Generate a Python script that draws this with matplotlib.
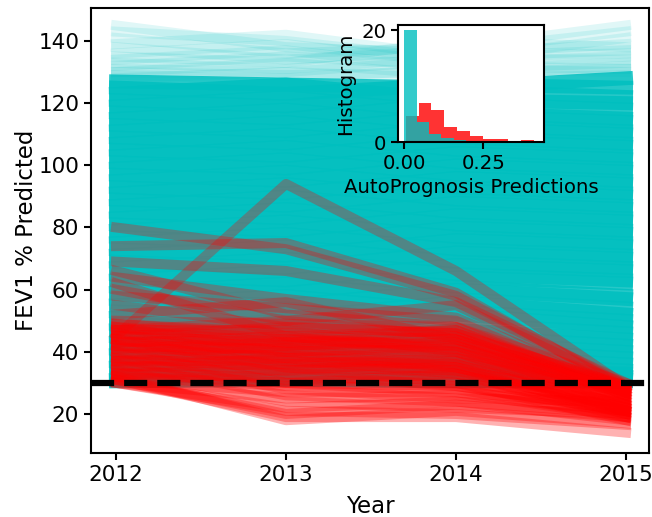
import matplotlib
matplotlib.use('Agg')
import matplotlib.pyplot as plt

years = [2012, 2013, 2014, 2015]

# patients that stay above the threshold (dense band)
cyan_lines = [
    [30.5, 31, 30.5, 30.5],
    [31, 34, 33, 31],
    [33, 31, 36, 32],
    [35, 38, 34, 33],
    [37, 35, 39, 36],
    [39, 42, 37, 34],
    [41, 39, 43, 40],
    [43, 46, 41, 38],
    [45, 43, 47, 44],
    [47, 50, 45, 42],
    [49, 47, 52, 48],
    [51, 54, 49, 46],
    [53, 51, 56, 52],
    [55, 58, 53, 50],
    [57, 55, 60, 57],
    [59, 62, 57, 54],
    [61, 59, 64, 62],
    [63, 66, 61, 58],
    [65, 63, 68, 66],
    [67, 70, 65, 63],
    [69, 67, 72, 70],
    [71, 74, 69, 67],
    [73, 71, 76, 74],
    [75, 78, 73, 71],
    [77, 75, 80, 78],
    [79, 82, 77, 75],
    [81, 79, 84, 82],
    [83, 86, 81, 79],
    [85, 83, 88, 86],
    [87, 90, 85, 83],
    [89, 87, 92, 90],
    [91, 94, 89, 87],
    [93, 91, 96, 94],
    [95, 98, 93, 91],
    [97, 95, 100, 98],
    [99, 102, 97, 95],
    [101, 99, 104, 102],
    [103, 106, 101, 99],
    [105, 103, 108, 106],
    [107, 110, 105, 103],
    [109, 107, 112, 110],
    [111, 114, 109, 107],
    [113, 111, 116, 114],
    [115, 118, 113, 111],
    [117, 115, 120, 118],
    [119, 122, 117, 115],
    [121, 119, 124, 122],
    [123, 126, 121, 120],
    [125, 123, 126, 125],
    [127, 126, 125, 128],
]

# sparse high values
cyan_faint = [
    [145, 138, 136, 139],
    [143, 140, 134, 141],
    [141, 136, 138, 145],
    [139, 142, 135, 137],
    [138, 134, 137, 143],
    [136, 139, 133, 135],
    [135, 133, 140, 138],
    [134, 137, 131, 133],
    [133, 131, 135, 136],
    [132, 135, 132, 131],
    [131, 130, 134, 134],
    [130, 133, 129, 132],
    [129, 128, 131, 130],
    [130, 129, 130, 131],
    [128, 130, 128, 129],
]

# patients that fall below the threshold by 2015
red_lines = [
    [45, 94, 66, 29],
    [80, 73, 58, 29],
    [74, 75, 59, 28],
    [69, 66, 56, 30],
    [64, 57, 51, 28],
    [66, 52, 48, 27],
    [60, 50, 55, 29],
    [58, 54, 50, 27],
    [55, 48, 46, 29],
    [52, 56, 44, 28],
    [62, 45, 47, 26],
    [49, 46, 44, 29],
    [48, 44, 42, 27],
    [47, 47, 40, 28],
    [46, 42, 43, 26],
    [45, 43, 38, 25],
    [44, 40, 41, 29],
    [43, 45, 39, 24],
    [42, 38, 37, 27],
    [41, 41, 36, 23],
    [40, 36, 38, 28],
    [39, 39, 35, 22],
    [38, 35, 34, 26],
    [37, 37, 36, 21],
    [36, 33, 32, 25],
    [35, 36, 33, 20],
    [34, 31, 30, 24],
    [33, 32, 31, 22],
    [32, 29, 28, 19],
    [31, 27, 27, 23],
    [30, 25, 26, 21],
    [30, 22, 24, 20],
    [31, 20, 23, 19],
    [48, 40, 35, 20],
    [46, 38, 33, 22],
    [44, 35, 30, 18],
    [42, 33, 29, 21],
    [40, 30, 27, 19],
    [38, 28, 25, 24],
    [36, 26, 24, 18],
    [34, 24, 22, 20],
    [47, 50, 45, 27],
    [45, 48, 46, 29],
    [43, 44, 47, 28],
    [41, 43, 45, 26],
    [39, 42, 44, 25],
    [37, 40, 42, 23],
    [35, 38, 40, 22],
    [33, 34, 37, 21],
    [32, 30, 33, 19],
    [50, 49, 48, 30],
    [49, 45, 41, 24],
    [44, 37, 34, 21],
    [47, 43, 43, 27],
    [42, 41, 40, 25],
    [37, 34, 35, 23],
    [33, 30, 29, 21],
    [31, 19, 19, 14],
    [30, 21, 20, 16.5],
    [32, 18, 21, 17],
]

threshold = 30

# inset histogram (AutoPrognosis predictions)
neg_edges = [0.001, 0.040, 0.079, 0.118, 0.157, 0.196, 0.235]
neg_counts = [20, 3.5, 1.4, 0.7, 0.4, 0.2]
pos_edges = [0.005, 0.046, 0.086, 0.127, 0.167, 0.208, 0.248, 0.289, 0.329, 0.370, 0.410]
pos_counts = [4.7, 7.0, 5.8, 2.6, 2.0, 1.0, 0.5, 0.5, 0.0, 0.4]

fig = plt.figure(figsize=(6.52, 5.17), dpi=100)
ax = fig.add_axes([0.1396, 0.1238, 0.8558, 0.8607])

for vals in cyan_faint:
    ax.plot(years, vals, color='c', alpha=0.12, lw=7.2)
for vals in cyan_lines:
    ax.plot(years, vals, color='c', alpha=0.85, lw=10)
for vals in red_lines:
    ax.plot(years, vals, color='r', alpha=0.3, lw=7.2)

ax.axhline(threshold, color='k', ls='--', lw=4.5)

ax.set_xlim(2011.853, 2015.135)
ax.set_ylim(7.45, 150.6)
ax.set_xticks(years)
ax.set_yticks([20, 40, 60, 80, 100, 120, 140])
ax.tick_params(labelsize=15.5, length=5, width=1.5)
ax.set_xlabel('Year', fontsize=16.5, labelpad=7)
ax.set_ylabel('FEV1 % Predicted', fontsize=16.5, labelpad=0)
for s in ax.spines.values():
    s.set_linewidth(1.5)

ins = fig.add_axes([0.6104, 0.7253, 0.2239, 0.2263])
ins.bar(pos_edges[:-1], pos_counts, width=[b - a for a, b in zip(pos_edges[:-1], pos_edges[1:])],
        align='edge', color='r', alpha=0.8)
ins.bar(neg_edges[:-1], neg_counts, width=[b - a for a, b in zip(neg_edges[:-1], neg_edges[1:])],
        align='edge', color='c', alpha=0.8)
ins.set_xlim(-0.019, 0.441)
ins.set_ylim(0, 20.9)
ins.set_xticks([0.0, 0.25])
ins.set_xticklabels(['0.00', '0.25'])
ins.set_yticks([0, 20])
ins.tick_params(labelsize=14.2, length=5, width=1.5)
ins.set_xlabel('AutoPrognosis Predictions', fontsize=14.2)
ins.set_ylabel('Histogram', fontsize=14.2)
for s in ins.spines.values():
    s.set_linewidth(1.5)

fig.savefig('out.png', dpi=100)
